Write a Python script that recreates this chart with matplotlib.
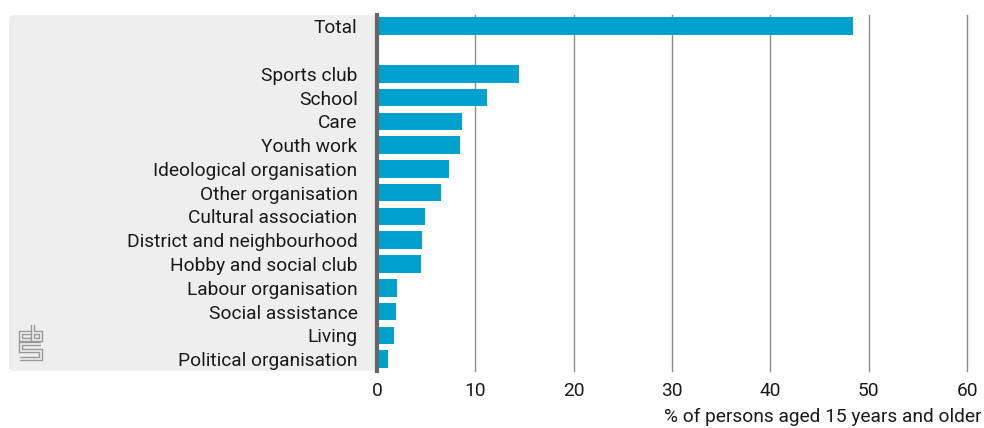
import matplotlib
matplotlib.use("Agg")
import matplotlib.pyplot as plt
from matplotlib.patches import FancyBboxPatch
from matplotlib.lines import Line2D

plt.rcParams["font.family"] = ["Roboto", "DejaVu Sans"]

categories = [
    "Total", "",
    "Sports club", "School", "Care", "Youth work", "Ideological organisation",
    "Other organisation", "Cultural association", "District and neighbourhood",
    "Hobby and social club", "Labour organisation", "Social assistance",
    "Living", "Political organisation",
]
values = [48.4, None, 14.4, 11.2, 8.6, 8.4, 7.3, 6.5, 4.85, 4.6, 4.5, 2.0, 1.9, 1.7, 1.1]
xticks = [0, 10, 20, 30, 40, 50, 60]
xlabel = "% of persons aged 15 years and older"

W, H = 984, 428
BAR = "#00a1cd"
TEXT = "#1a1a1a"
PANEL = "#eeeeee"
FS = 13.8

fig = plt.figure(figsize=(W / 100, H / 100), dpi=100)

def fx(px):
    return px / W

def fy(py):
    return 1 - py / H

# grey label panel behind category names
panel = FancyBboxPatch((fx(9), fy(371)), fx(377) - fx(9), fy(15) - fy(371),
                       boxstyle="round,pad=0,rounding_size=0.008",
                       transform=fig.transFigure, facecolor=PANEL,
                       edgecolor="none", zorder=-5)
fig.patches.append(panel)

ax = fig.add_axes([fx(377), fy(371), fx(967) - fx(377), fy(15) - fy(371)])
ax.set_facecolor("none")

ys = [i for i, v in enumerate(values) if v is not None]
vs = [v for v in values if v is not None]
ax.barh(ys, vs, height=0.74, color=BAR, zorder=3)

ax.set_xlim(0, 60)
ax.set_ylim(14.5, -0.47)
ax.set_xticks(xticks)
ax.set_xticklabels([str(t) for t in xticks], fontsize=FS, color=TEXT)
ax.set_yticks(range(len(categories)))
ax.set_yticklabels(categories, fontsize=FS, color=TEXT)
ax.tick_params(axis="both", length=0)
ax.tick_params(axis="x", pad=8)
ax.tick_params(axis="y", pad=14)
for lbl in ax.get_yticklabels():
    lbl.set_y(lbl.get_position()[1])
for s in ax.spines.values():
    s.set_visible(False)

for t in xticks[1:]:
    ax.axvline(t, color="#8c8c8c", lw=1.0, zorder=1, clip_on=False)
ax.axvline(0, color="#666666", lw=3.0, zorder=4, clip_on=False)

fig.text(fx(982), fy(417), xlabel, ha="right", va="center", fontsize=FS, color=TEXT)

# cbs logo
def logo_line(pts):
    xs = [fx(p[0]) for p in pts]
    yv = [fy(p[1]) for p in pts]
    fig.add_artist(Line2D(xs, yv, transform=fig.transFigure, color="#9a9a9a",
                          lw=3.2, solid_joinstyle="miter", solid_capstyle="butt"))
    fig.add_artist(Line2D(xs, yv, transform=fig.transFigure, color=PANEL,
                          lw=1.2, solid_joinstyle="miter", solid_capstyle="butt"))

logo_line([(31, 333), (21, 333), (21, 340), (31, 340)])
logo_line([(33, 325), (33, 340), (41, 340), (41, 333), (33, 333)])
logo_line([(41, 344), (21, 344), (21, 351), (41, 351), (41, 359), (20, 359)])

fig.savefig("out.png", dpi=100)
